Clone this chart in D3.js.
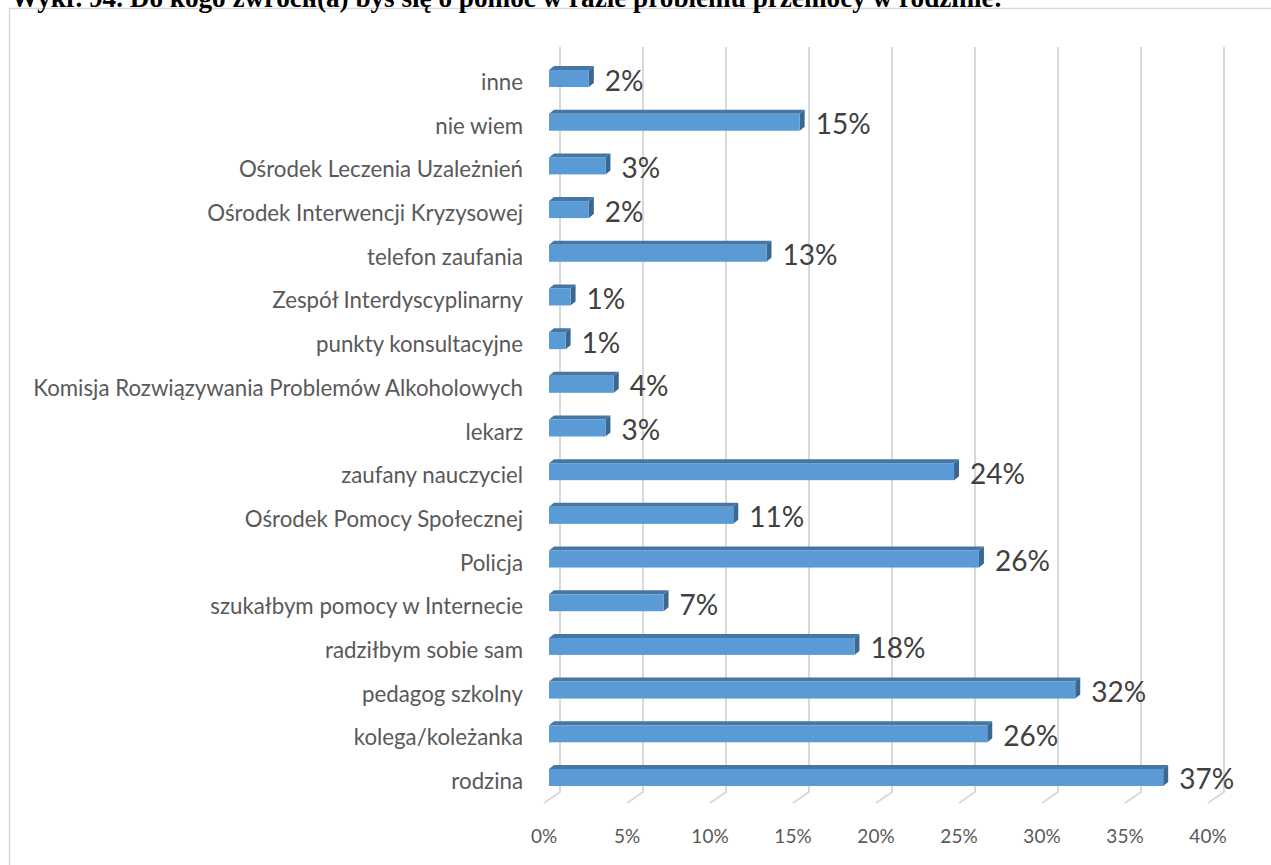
<!DOCTYPE html>
<html>
<head>
<meta charset="utf-8">
<script src="https://cdn.jsdelivr.net/npm/d3@7"></script>
<style>
  body { margin: 0; background: #fff; }
  svg { display: block; }
</style>
</head>
<body>
<div class="chart"></div>
<script>
// categories top -> bottom, as in the picture
const categories = [
  "inne", "nie wiem", "Ośrodek Leczenia Uzależnień", "Ośrodek Interwencji Kryzysowej",
  "telefon zaufania", "Zespół Interdyscyplinarny", "punkty konsultacyjne",
  "Komisja Rozwiązywania Problemów Alkoholowych", "lekarz", "zaufany nauczyciel",
  "Ośrodek Pomocy Społecznej", "Policja", "szukałbym pomocy w Internecie",
  "radziłbym sobie sam", "pedagog szkolny", "kolega/koleżanka", "rodzina"
];
// percent
const values = [2.4, 15.1, 3.4, 2.4, 13.1, 1.3, 1.0, 3.9, 3.4, 24.4, 11.1, 25.9, 6.9, 18.4, 31.7, 26.4, 37.0];
const ticks = [0, 5, 10, 15, 20, 25, 30, 35, 40];
const title = "Wykr. 94. Do kogo zwrócił(a) byś się o pomoc w razie problemu przemocy w rodzinie:";

const width = 1271, height = 865;
const depthX = 16, depthY = -11; // floor: front -> back
const barDx = 5, barDy = 4, barH = 17, barInset = 5;

const svg = d3.select(".chart").append("svg")
  .attr("width", width)
  .attr("height", height);

// chart frame
svg.append("rect")
  .attr("x", 9.5).attr("y", 8.5)
  .attr("width", width + 20).attr("height", height + 20)
  .attr("fill", "#fff")
  .attr("stroke", "#d9d9d9")
  .attr("stroke-width", 1.5);

// title, cut by the top edge
const t = svg.append("text")
  .attr("x", 11).attr("y", 7)
  .attr("font-family", "Liberation Serif, Times New Roman, serif")
  .attr("font-weight", "bold")
  .attr("font-size", 22)
  .attr("fill", "#000")
  .text(title);
const tw = t.node().getComputedTextLength();
t.attr("font-size", 22 * 992 / tw);

const x = d3.scaleLinear().domain([0, 40]).range([544, 1208]);
const y = d3.scaleBand().domain(categories).range([56.7, 799.3]);

// gridlines: back wall + floor diagonal
svg.append("g").selectAll("path")
  .data(ticks)
  .join("path")
  .attr("d", d => `M${x(d) + depthX},47 V${803 + depthY} L${x(d)},803`)
  .attr("fill", "none")
  .attr("stroke", "#d9d9d9")
  .attr("stroke-width", 2);

// tick labels
svg.append("g").selectAll("text")
  .data(ticks)
  .join("text")
  .attr("x", d => x(d))
  .attr("y", 835)
  .attr("text-anchor", "middle")
  .attr("dominant-baseline", "central")
  .attr("font-family", "Lato, sans-serif")
  .attr("font-size", 19)
  .attr("fill", "#595959")
  .text(d => d + "%");

const rows = categories.map((c, i) => ({ cat: c, v: values[i] }));
const cy = d => y(d.cat) + y.bandwidth() / 2;

const bars = svg.append("g").selectAll("g")
  .data(rows)
  .join("g");

bars.each(function(d) {
  const g = d3.select(this);
  const x0 = x(0) + barInset, x1 = x(d.v) + barInset;
  const top = cy(d) - barH / 2, bot = cy(d) + barH / 2;
  g.append("polygon")
    .attr("points", [[x0, top], [x0 + barDx, top - barDy], [x1 + barDx, top - barDy], [x1, top]].join(" "))
    .attr("fill", "#4576a4");
  g.append("polygon")
    .attr("points", [[x1, top], [x1 + barDx, top - barDy], [x1 + barDx, bot - barDy], [x1, bot]].join(" "))
    .attr("fill", "#3a6891");
  g.append("rect")
    .attr("x", x0).attr("y", top)
    .attr("width", x1 - x0).attr("height", barH)
    .attr("fill", "#5b9bd5");
});

// value labels
svg.append("g").selectAll("text")
  .data(rows)
  .join("text")
  .attr("x", d => x(d.v) + barInset + barDx + 11)
  .attr("y", d => cy(d) + 1)
  .attr("dominant-baseline", "central")
  .attr("font-family", "Lato, sans-serif")
  .attr("font-size", 28)
  .attr("fill", "#404040")
  .text(d => Math.round(d.v) + "%");

// category labels
const catLabels = svg.append("g").selectAll("text")
  .data(rows)
  .join("text")
  .attr("x", 523)
  .attr("y", d => cy(d) + 3)
  .attr("text-anchor", "end")
  .attr("dominant-baseline", "central")
  .attr("font-family", "Lato, sans-serif")
  .attr("font-size", 20)
  .attr("fill", "#595959")
  .text(d => d.cat);

// fit the longest label to the width it takes in the picture
const longest = d3.max(catLabels.nodes(), n => n.getComputedTextLength());
catLabels.attr("font-size", 20 * 490 / longest);
</script>
</body>
</html>
